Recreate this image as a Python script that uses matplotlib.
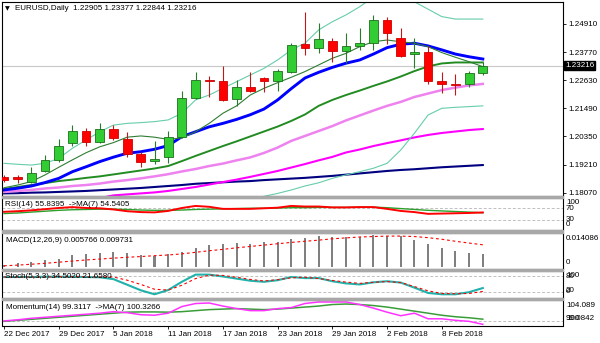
import numpy as np
import matplotlib.pyplot as plt
import matplotlib.transforms as mtransforms
from matplotlib.patches import Rectangle

# fonts
plt.rcParams['font.family'] = ['Liberation Sans', 'DejaVu Sans']
FS = 5.8

# date labels on the bottom axis (bar index of each label)
date_labels = ['22 Dec 2017', '29 Dec 2017', '5 Jan 2018', '11 Jan 2018', '17 Jan 2018',
               '23 Jan 2018', '29 Jan 2018', '2 Feb 2018', '8 Feb 2018']
date_pos = [0, 4, 8, 12, 16, 20, 24, 28, 32]

# EURUSD daily candles
opens = [1.1872, 1.1869, 1.1852, 1.1895, 1.1940, 1.2010, 1.2057, 1.2014, 1.2065, 1.2024,
         1.1964, 1.1935, 1.1951, 1.2032, 1.2192, 1.2264, 1.2261, 1.2186, 1.2237, 1.2271,
         1.2260, 1.2298, 1.2409, 1.2392, 1.2423, 1.2383, 1.2403, 1.2413, 1.2507, 1.2433,
         1.2368, 1.2379, 1.2261, 1.2246, 1.2246, 1.22905]
highs = [1.1879, 1.1879, 1.1910, 1.1960, 1.2024, 1.2080, 1.2068, 1.2088, 1.2081, 1.2054,
         1.1973, 1.2017, 1.2059, 1.2221, 1.2298, 1.2280, 1.2322, 1.2264, 1.2298, 1.2276,
         1.2307, 1.2415, 1.2538, 1.2494, 1.2433, 1.2456, 1.2476, 1.2527, 1.2521, 1.2476,
         1.2433, 1.2402, 1.2298, 1.2288, 1.2302, 1.23377]
lows = [1.1850, 1.1848, 1.1848, 1.1892, 1.1933, 1.1996, 1.1996, 1.2007, 1.2021, 1.1953,
        1.1912, 1.1922, 1.1927, 1.2028, 1.2186, 1.2194, 1.2180, 1.2158, 1.2216, 1.2216,
        1.2221, 1.2294, 1.2365, 1.2375, 1.2338, 1.2334, 1.2386, 1.2386, 1.2409, 1.2358,
        1.2311, 1.2246, 1.2212, 1.2203, 1.2237, 1.22844]
closes = [1.1858, 1.1861, 1.1886, 1.1940, 1.1996, 1.2057, 1.2013, 1.2065, 1.2030, 1.1964,
          1.1930, 1.1944, 1.2031, 1.2190, 1.2264, 1.2259, 1.2183, 1.2234, 1.2221, 1.2260,
          1.2300, 1.2406, 1.2392, 1.2430, 1.2382, 1.2403, 1.2415, 1.2507, 1.2456, 1.2362,
          1.2379, 1.2260, 1.2248, 1.2244, 1.2294, 1.23216]

# moving averages on the price chart
ma_fast = [1.1827, 1.1838, 1.1852, 1.1879, 1.1910, 1.1940, 1.1969, 1.1993, 1.2010, 1.2032,
           1.2037, 1.2032, 1.2023, 1.2029, 1.2054, 1.2088, 1.2129, 1.2159, 1.2203, 1.2230,
           1.2253, 1.2275, 1.2298, 1.2325, 1.2352, 1.2372, 1.2399, 1.2419, 1.2426, 1.2419,
           1.2413, 1.2399, 1.2375, 1.2356, 1.2338, 1.2318]
ma_blue = [1.1818, 1.1825, 1.1834, 1.1848, 1.1865, 1.1892, 1.1912, 1.1933, 1.1951, 1.1967,
           1.1973, 1.1983, 1.1998, 1.2034, 1.2054, 1.2074, 1.2088, 1.2104, 1.2123, 1.2146,
           1.2183, 1.2229, 1.2272, 1.2295, 1.2315, 1.2332, 1.2345, 1.2369, 1.2395, 1.2409,
           1.2413, 1.2402, 1.2386, 1.2369, 1.2358, 1.2349]
ma_green = [1.1822, 1.1830, 1.1838, 1.1846, 1.1854, 1.1860, 1.1867, 1.1873, 1.1881, 1.1889,
            1.1897, 1.1905, 1.1915, 1.1935, 1.1956, 1.1976, 1.1996, 1.2015, 1.2035, 1.2055,
            1.2075, 1.2098, 1.2124, 1.2159, 1.2183, 1.2203, 1.2221, 1.2240, 1.2258, 1.2278,
            1.2300, 1.2319, 1.2331, 1.2335, 1.2335, 1.2335]
ma_violet = [1.1810, 1.1814, 1.1818, 1.1824, 1.1828, 1.1834, 1.1838, 1.1844, 1.1852, 1.1858,
             1.1865, 1.1873, 1.1882, 1.1893, 1.1903, 1.1915, 1.1925, 1.1938, 1.1950, 1.1968,
             1.1990, 1.2017, 1.2037, 1.2057, 1.2077, 1.2100, 1.2120, 1.2140, 1.2159, 1.2175,
             1.2195, 1.2209, 1.2223, 1.2233, 1.2242, 1.2248]
ma_magenta = [np.nan] * 6 + [1.1777, 1.1785, 1.1796, 1.1800, 1.1804, 1.1808, 1.1814, 1.1822,
              1.1830, 1.1840, 1.1850, 1.1860, 1.1871, 1.1883, 1.1895, 1.1909, 1.1923, 1.1938,
              1.1952, 1.1970, 1.1982, 1.1996, 1.2008, 1.2019, 1.2031, 1.2041, 1.2049, 1.2055,
              1.2061, 1.2065]
ma_navy = [1.1804, 1.1805, 1.1807, 1.1808, 1.1810, 1.1812, 1.1814, 1.1817, 1.1820, 1.1823,
           1.1826, 1.1830, 1.1834, 1.1838, 1.1843, 1.1846, 1.1849, 1.1852, 1.1854, 1.1858,
           1.1861, 1.1864, 1.1867, 1.1871, 1.1875, 1.1880, 1.1885, 1.1890, 1.1895, 1.1899,
           1.1902, 1.1906, 1.1910, 1.1913, 1.1916, 1.1919]
bb_upper = [1.1926, 1.1922, 1.1919, 1.1926, 1.1946, 1.1987, 1.2021, 1.2054, 1.2081, 1.2088,
            1.2091, 1.2095, 1.2102, 1.2129, 1.2183, 1.2203, 1.2230, 1.2257, 1.2284, 1.2311,
            1.2345, 1.2386, 1.2413, 1.2467, 1.2500, 1.2528, 1.2561, 1.2600, 1.2629, 1.2609,
            1.2581, 1.2551, 1.2521, 1.2511, 1.2511, 1.2511]
bb_lower = [np.nan] * 18 + [1.1777, 1.1792, 1.1804, 1.1818, 1.1834, 1.1847, 1.1865, 1.1879,
            1.1892, 1.1906, 1.1926, 1.1980, 1.2048, 1.2122, 1.2149, 1.2153, 1.2156, 1.2159]

# RSI(14) and its MA(7)
rsi = [58, 60, 63, 67, 71, 74, 71, 70, 66, 60, 57, 56, 61, 71, 78, 75, 68, 68, 68, 70,
       72, 78, 76, 76, 73, 73, 74, 74, 68, 61, 57, 51, 52, 53, 54, 55.8395]
rsi_ma = [52, 54, 57, 60, 63, 65, 66, 67, 67, 66, 64, 63, 63, 64, 66, 67, 68, 69, 70, 70,
          71, 72, 72, 73, 73, 73, 74, 74, 72, 69, 66, 63, 61, 59, 57, 54.5405]

# MACD(12,26,9)
macd_main = [0.0008, 0.0016, 0.0020, 0.0028, 0.0036, 0.0050, 0.0055, 0.0062, 0.0065, 0.0061,
             0.0053, 0.0049, 0.0055, 0.0065, 0.0084, 0.0096, 0.0100, 0.0105, 0.0102, 0.0109,
             0.0111, 0.0123, 0.0129, 0.0138, 0.0133, 0.0131, 0.0131, 0.014086, 0.0136, 0.0136,
             0.0119, 0.0100, 0.0084, 0.0070, 0.0062, 0.005766]
macd_signal = [0.0004, 0.0007, 0.0011, 0.0015, 0.0020, 0.0025, 0.0030, 0.0034, 0.0038, 0.0042,
               0.0045, 0.0049, 0.0052, 0.0057, 0.0064, 0.0071, 0.0077, 0.0084, 0.0090, 0.0096,
               0.0102, 0.0108, 0.0113, 0.0118, 0.0124, 0.0128, 0.0132, 0.0134, 0.0136, 0.0136,
               0.0134, 0.0129, 0.0122, 0.0113, 0.0105, 0.009731]

# Stochastic(5,3,3)
stoch_k = [76, 76, 76, 77, 77, 77, 76, 75, 68, 47, 26, 11, 27, 58, 85, 85, 78, 70, 62, 58,
           64, 76, 72, 72, 60, 52, 48, 56, 60, 55, 36, 16, 11, 11, 19, 34.502]
stoch_d = [76, 76, 76, 76, 77, 77, 77, 76, 76, 64, 48, 30, 27, 45, 70, 83, 82, 75, 67, 61,
           66, 73, 75, 70, 63, 57, 52, 56, 59, 55, 40, 24, 14, 13, 14, 21.658]

# Momentum(14) and its MA(7)
momentum = [99.98, 100.2, 100.5, 100.7, 100.9, 101.1, 101.3, 101.5, 101.8, 101.6,
            101.2, 101.1, 101.5, 102.8, 103.4, 103.5, 102.9, 102.4, 102.0, 102.0,
            102.4, 102.6, 103.4, 103.7, 103.7, 103.7, 103.2, 102.5, 101.7, 101.0,
            101.5, 100.4, 100.4, 100.1, 99.9, 99.3117]
momentum_ma = [99.9, 100.1, 100.3, 100.5, 100.7, 100.9, 101.1, 101.3, 101.5, 101.7,
               101.75, 101.75, 101.7, 101.8, 102.0, 102.2, 102.3, 102.4, 102.3, 102.2,
               102.3, 102.5, 102.7, 102.9, 103.2, 103.3, 103.2, 103.0, 102.7, 102.3,
               101.9, 101.5, 101.1, 100.8, 100.6, 100.3266]

price_ticks = [1.18070, 1.19210, 1.20350, 1.21490, 1.22630, 1.23770, 1.24910]
last_price = 1.23216

x = np.arange(len(closes))
W, H = 600, 343
XL, XR = 1.7, 562.7
xlim = (-0.17, 40.84)


def panel(top, bottom):
    ax = fig.add_axes([XL / W, 1 - bottom / H, (XR - XL) / W, (bottom - top) / H])
    ax.set_xlim(*xlim)
    ax.set_xticks([])
    ax.set_yticks([])
    for s in ax.spines.values():
        s.set_linewidth(0.8)
        s.set_color('black')
    return ax


def ftext(px, py, s, **kw):
    kw.setdefault('fontsize', FS)
    kw.setdefault('va', 'center')
    fig.text(px / W, 1 - py / H, s, **kw)


fig = plt.figure(figsize=(6, 3.43), dpi=100)
fig.patch.set_facecolor('white')

# gray separators between the windows
for y0, y1 in [(195.5, 197.5), (230, 232.5), (268.5, 270.5), (298, 300)]:
    fig.patches.append(Rectangle((XL / W, 1 - y1 / H), (XR - XL) / W, (y1 - y0) / H,
                                 transform=fig.transFigure, color='#a8a8a8', zorder=0))

# ---- price window ----
ax = panel(1.5, 195.5)
ax.set_ylim(1.17955, 1.25822)
ax.axhline(last_price, color='#c8c8c8', lw=0.8, zorder=1)

ax.plot(x, ma_navy, color='#000080', lw=1.5, zorder=2)
ax.plot(x, ma_magenta, color='#ff00ff', lw=1.5, zorder=2)
ax.plot(x, ma_violet, color='#ee82ee', lw=1.8, zorder=2)
ax.plot(x, bb_upper, color='#66cdaa', lw=0.8, zorder=2)
ax.plot(x, bb_lower, color='#66cdaa', lw=0.8, zorder=2)
ax.plot(x, ma_green, color='#228b22', lw=1.4, zorder=2)
ax.plot(x, ma_blue, color='#0000ff', lw=2.1, zorder=2)
ax.plot(x, ma_fast, color='#2e7d32', lw=0.8, zorder=2)

o = np.array(opens)
c = np.array(closes)
up = c >= o
ax.vlines(x[up], np.array(lows)[up], np.array(highs)[up], color='#2a7a2a', lw=0.8, zorder=3)
ax.vlines(x[~up], np.array(lows)[~up], np.array(highs)[~up], color='#c01818', lw=0.8, zorder=3)
ax.bar(x[up], (c - o)[up], bottom=o[up], width=0.64, color='#32cd32',
       edgecolor='#1c6e1c', linewidth=0.6, zorder=4)
ax.bar(x[~up], (o - c)[~up], bottom=c[~up], width=0.64, color='#ff0000',
       edgecolor='#d00000', linewidth=0.6, zorder=4)

ax.yaxis.tick_right()
ax.set_yticks(price_ticks)
ax.set_yticklabels(['%.5f' % v for v in price_ticks])
ax.tick_params(axis='y', direction='out', length=2.5, width=0.6, pad=1.5, labelsize=FS)

bt = mtransforms.blended_transform_factory(ax.transAxes, ax.transData)
ax.text(1.004, last_price, '%.5f' % last_price, transform=bt, ha='left', va='center',
        color='white', fontsize=FS,
        bbox=dict(boxstyle='square,pad=0.15', facecolor='black', edgecolor='black'))

ftext(5, 9, '\u25bc', fontsize=4.5, family=['DejaVu Sans'])
ftext(15, 9, 'EURUSD,Daily  %.5f %.5f %.5f %.5f' % (opens[-1], highs[-1], lows[-1], closes[-1]))

# ---- RSI window ----
ax_rsi = panel(197.5, 230)
ax_rsi.set_ylim(-4.1, 106.8)
for lv in (70, 30):
    ax_rsi.axhline(lv, color='#c0c0c0', lw=0.7, ls=(0, (3, 2)))
ax_rsi.plot(x, rsi_ma, color='#2ca02c', lw=1.0)
ax_rsi.plot(x, rsi, color='#ff0000', lw=1.4)
ftext(5, 205, 'RSI(14) %.4f  ->MA(7) %.4f' % (rsi[-1], rsi_ma[-1]))
for s, py in [('100', 203), ('70', 208.5), ('30', 219.5), ('0', 224)]:
    ftext(566, py, s)

# ---- MACD window ----
ax_macd = panel(232.5, 268.5)
ax_macd.set_ylim(-0.0008, 0.0152)
ax_macd.bar(x, macd_main, width=0.15, color='#808080', zorder=2)
ax_macd.plot(x, macd_signal, color='#ff0000', lw=0.8, ls=(0, (2.5, 2.5)), zorder=3)
ftext(6, 240, 'MACD(12,26,9) %.6f %.6f' % (macd_main[-1], macd_signal[-1]))
ftext(566, 239, '%.6f' % max(macd_main))
ftext(566, 263, '0')

# ---- Stochastic window ----
ax_st = panel(270.5, 298)
ax_st.set_ylim(-3, 100.5)
for lv in (80, 20):
    ax_st.axhline(lv, color='#c0c0c0', lw=0.7, ls=(0, (3, 2)))
ax_st.plot(x, stoch_k, color='#20b2aa', lw=1.5)
ax_st.plot(x, stoch_d, color='#ff0000', lw=0.8, ls=(0, (2.5, 2.5)))
ftext(5, 277, 'Stoch(5,3,3) %.4f %.4f' % (stoch_k[-1], stoch_d[-1]))
for s, py in [('100', 275.5), ('80', 276.5), ('20', 291), ('0', 291.5)]:
    ftext(566, py, s)

# ---- Momentum window ----
ax_mom = panel(300, 325.5)
ax_mom.set_ylim(99.0842, 104.089)
ax_mom.axhline(100, color='#c0c0c0', lw=0.7, ls=(0, (3, 2)))
ax_mom.plot(x, momentum_ma, color='#3a9d3a', lw=1.1)
ax_mom.plot(x, momentum, color='#ff33ff', lw=1.1)
ftext(6, 307.5, 'Momentum(14) %.4f  ->MA(7) %.4f' % (momentum[-1], momentum_ma[-1]))
ftext(566, 305.5, '104.089')
ftext(566, 318.5, '100')
ftext(566, 319, '99.0842')

ax_mom.set_xticks(date_pos)
ax_mom.set_xticklabels(date_labels, ha='left', fontsize=FS)
ax_mom.tick_params(axis='x', direction='out', length=2.5, width=0.6, pad=1.5)

fig.savefig('out.png', dpi=100)
